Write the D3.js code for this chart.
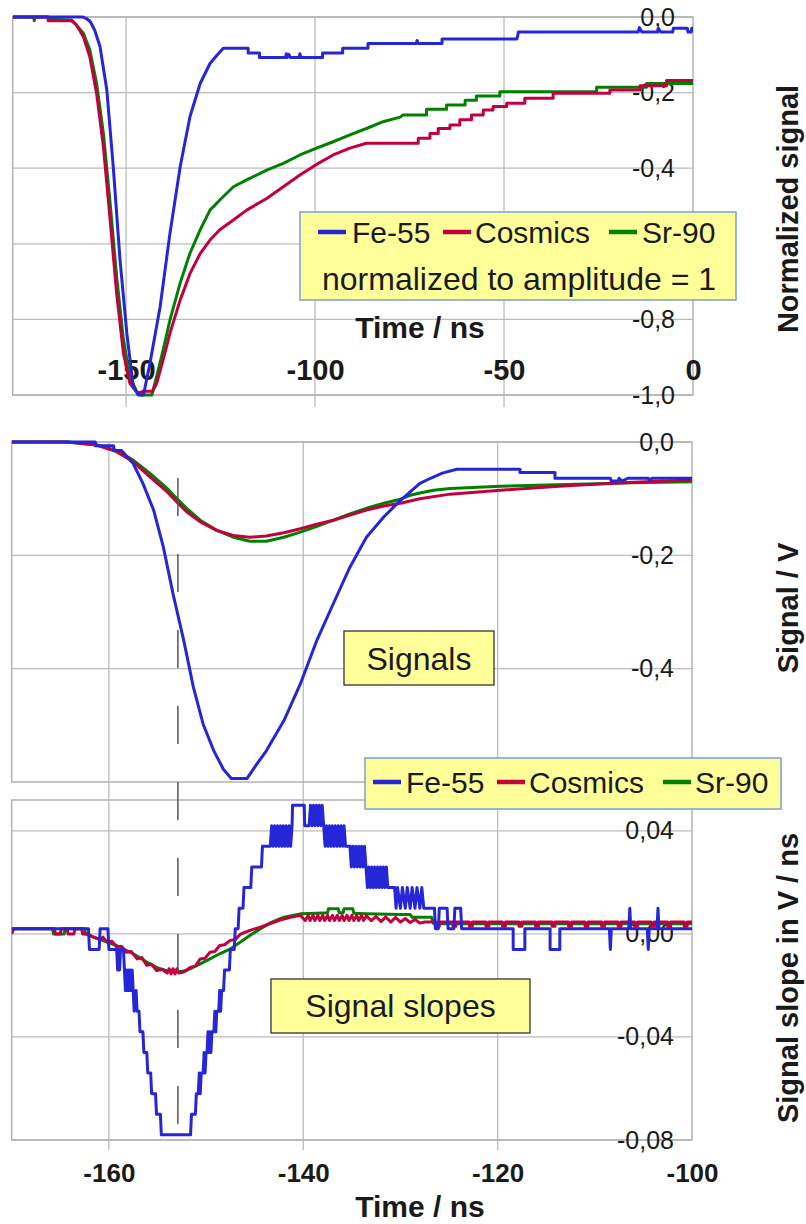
<!DOCTYPE html>
<html>
<head>
<meta charset="utf-8">
<script src="https://cdn.jsdelivr.net/npm/d3@7"></script>
<style>
  body { margin: 0; background: #fff; }
  text { font-family: "Liberation Sans", Arial, sans-serif; fill: #1a1a1a; }
</style>
</head>
<body>
<script>
// series names + colours
var seriesNames = ["Fe-55", "Cosmics", "Sr-90"];
var seriesColors = ["#2626d9", "#c2003f", "#008000"];

// ---- panel 1: normalized signal (time / ns, value) ----
var normFe = [[-180,0],[-161.4,0],[-160.5,-0.004],[-159.5,-0.012],[-158.3,-0.035],[-156.9,-0.078],[-155.1,-0.193],
  [-153.4,-0.396],[-151.6,-0.643],[-149.8,-0.837],[-148.1,-0.978],[-146.8,-1.0],[-145.4,-1.0],[-143.7,-0.917],
  [-141.0,-0.767],[-138.4,-0.573],[-135.7,-0.397],[-133.1,-0.264],[-130.4,-0.176],[-127.8,-0.123],[-125.6,-0.097],
  [-124.3,-0.083],[-117.7,-0.083],[-117.7,-0.095],[-114.7,-0.095],[-114.7,-0.107],[-107.8,-0.107],[-107.6,-0.097],
  [-107.4,-0.107],[-106.9,-0.099],[-106.6,-0.107],[-104.2,-0.107],[-104.0,-0.097],[-103.8,-0.107],[-98,-0.107],
  [-98,-0.095],[-92.7,-0.095],[-92.7,-0.083],[-86,-0.083],[-86,-0.07],[-73.2,-0.07],[-73,-0.062],[-72.8,-0.07],
  [-66.4,-0.07],[-66.4,-0.058],[-46.6,-0.058],[-46.4,-0.05],[-46.2,-0.04],[-14.5,-0.04],[-14.2,-0.028],[-13.5,-0.04],
  [-9.4,-0.04],[-9.2,-0.03],[-8.5,-0.04],[-5.4,-0.04],[-5.2,-0.03],[-1.5,-0.03],[-1.3,-0.04],[-0.5,-0.04],[-0.3,-0.03],[0,-0.03]];
var normCos = [[-180,0],[-170.6,0],[-170.6,-0.01],[-164.4,-0.01],[-163.1,-0.021],[-161.3,-0.052],[-159.6,-0.105],
  [-157.8,-0.202],[-156.0,-0.343],[-154.3,-0.528],[-152.5,-0.731],[-150.7,-0.890],[-149.0,-0.969],[-146.8,-0.996],
  [-145.4,-0.99],[-143,-0.99],[-141.9,-0.969],[-140.2,-0.907],[-138.4,-0.837],[-135.7,-0.749],[-133.1,-0.679],
  [-130.4,-0.626],[-127.8,-0.590],[-125.2,-0.563],[-121.6,-0.537],[-118.1,-0.511],[-112.8,-0.480],[-108.4,-0.449],
  [-104,-0.418],[-99.6,-0.390],[-95.2,-0.365],[-90.8,-0.347],[-86.4,-0.334],[-72.7,-0.334],[-72.7,-0.321],
  [-69.6,-0.321],[-69.6,-0.308],[-67.4,-0.308],[-67.4,-0.295],[-64.3,-0.295],[-64.3,-0.286],[-61.7,-0.286],
  [-61.7,-0.272],[-58.6,-0.272],[-58.6,-0.259],[-55.5,-0.259],[-55.5,-0.246],[-52.9,-0.246],[-52.9,-0.237],
  [-49.3,-0.237],[-49.3,-0.228],[-44.5,-0.228],[-44.5,-0.215],[-37,-0.215],[-37,-0.202],[-22,-0.202],[-22,-0.193],
  [-14,-0.193],[-14,-0.182],[-7,-0.182],[-7,-0.168],[0,-0.168]];
var normSr = [[-180,0],[-174.5,0],[-174.3,-0.01],[-174.1,0],[-170.6,0],[-170.6,-0.006],[-164.5,-0.008],[-164,-0.012],
  [-161.3,-0.043],[-159.6,-0.087],[-157.8,-0.176],[-156.0,-0.308],[-154.3,-0.484],[-152.5,-0.687],[-150.7,-0.854],
  [-149.0,-0.951],[-147.2,-0.991],[-146,-1.0],[-143.2,-1.0],[-141.9,-0.951],[-140.2,-0.881],[-138.4,-0.802],
  [-135.7,-0.704],[-133.1,-0.625],[-130.4,-0.563],[-127.8,-0.511],[-125.2,-0.484],[-121.6,-0.449],[-118.1,-0.431],
  [-112.8,-0.405],[-108.4,-0.387],[-104,-0.365],[-99.6,-0.347],[-95.2,-0.330],[-90.8,-0.312],[-86.4,-0.295],
  [-82,-0.277],[-77.5,-0.265],[-76.7,-0.259],[-70.5,-0.259],[-70.5,-0.244],[-65.2,-0.244],[-65.2,-0.233],
  [-60.3,-0.233],[-60.3,-0.220],[-57.3,-0.220],[-57.3,-0.209],[-51.1,-0.209],[-51.1,-0.198],[-25.5,-0.198],
  [-25.5,-0.186],[-12.3,-0.186],[-12.3,-0.176],[0,-0.176]];

// ---- panel 2: signal / V ----
var sigFe = [[-170,0],[-161.4,0],[-161.4,-0.0065],[-159.5,-0.0065],[-159.5,-0.015],[-158.7,-0.015],[-157.5,-0.038],
  [-156.5,-0.073],[-155.4,-0.120],[-154.4,-0.185],[-153.4,-0.268],[-152.3,-0.350],[-151.3,-0.433],[-150.3,-0.498],
  [-149.2,-0.545],[-148.2,-0.578],[-147.4,-0.594],[-145.8,-0.594],[-144.8,-0.569],[-143.8,-0.545],[-142.0,-0.492],
  [-140.3,-0.427],[-138.6,-0.350],[-136.9,-0.285],[-135.2,-0.221],[-133.5,-0.168],[-131.7,-0.132],[-130.0,-0.103],
  [-129.0,-0.088],[-128.0,-0.073],[-126.9,-0.064],[-125.7,-0.055],[-124.2,-0.048],[-117.7,-0.048],[-117.7,-0.054],
  [-114.1,-0.054],[-114.1,-0.064],[-108.4,-0.064],[-108.3,-0.069],[-107.6,-0.069],[-107.5,-0.064],[-107.2,-0.069],
  [-106.6,-0.064],[-104.5,-0.064],[-104.4,-0.068],[-104.1,-0.064],[-100,-0.064]];
var sigCos = [[-170,0],[-164.3,0],[-161.3,-0.0053],[-159.2,-0.017],[-157.5,-0.035],[-155.8,-0.061],[-154.0,-0.088],
  [-153.0,-0.106],[-152.0,-0.123],[-150.6,-0.141],[-148.9,-0.156],[-147.2,-0.165],[-145.5,-0.168],[-143.8,-0.166],
  [-142.0,-0.160],[-140.3,-0.153],[-138.6,-0.145],[-136.9,-0.138],[-135.2,-0.129],[-133.5,-0.120],[-131.7,-0.113],
  [-130,-0.108],[-128.0,-0.100],[-124.9,-0.092],[-119.7,-0.085],[-112.9,-0.077],[-106,-0.071],[-100,-0.067]];
var sigSr = [[-170,0],[-164.3,0],[-161.3,-0.0047],[-159.2,-0.015],[-157.5,-0.032],[-155.8,-0.055],[-154.0,-0.082],
  [-153.0,-0.100],[-152.0,-0.117],[-150.6,-0.138],[-148.9,-0.156],[-147.2,-0.168],[-145.5,-0.175],[-143.8,-0.175],
  [-142.0,-0.168],[-140.3,-0.159],[-138.6,-0.149],[-136.9,-0.138],[-135.2,-0.127],[-133.5,-0.117],[-131.7,-0.108],
  [-130,-0.101],[-129,-0.094],[-128,-0.090],[-126.6,-0.085],[-124.9,-0.082],[-119.7,-0.078],[-112.9,-0.075],
  [-106,-0.072],[-100,-0.070]];

// ---- panel 3: signal slope / V/ns ----
var slopeFe = [[-170,0.002],[-162.1,0.002],[-162.0,-0.006],[-161.0,-0.006],[-160.9,0.002],[-160.1,0.002],[-160.0,-0.006],
  [-159.2,-0.006],[-159.1,-0.014],[-159.0,-0.006],[-158.9,-0.014],[-158.8,-0.006],[-158.5,-0.006],[-158.4,-0.014],
  [-158.3,-0.022],[-158.2,-0.014],[-158.1,-0.022],[-158.0,-0.014],[-157.9,-0.022],[-157.8,-0.014],[-157.7,-0.022],
  [-157.6,-0.014],[-157.5,-0.022],[-157.4,-0.030],[-157.2,-0.022],[-157.1,-0.030],[-156.9,-0.030],[-156.8,-0.038],
  [-156.5,-0.038],[-156.4,-0.046],[-156.1,-0.046],[-156.0,-0.054],[-155.7,-0.054],[-155.6,-0.062],[-155.2,-0.062],
  [-155.1,-0.070],[-154.7,-0.070],[-154.6,-0.078],[-151.6,-0.078],[-151.5,-0.070],[-151.1,-0.070],[-151.0,-0.062],
  [-150.8,-0.062],[-150.7,-0.054],[-150.6,-0.062],[-150.5,-0.054],[-150.3,-0.054],[-150.2,-0.046],[-150.1,-0.054],
  [-150.0,-0.046],[-149.9,-0.046],[-149.8,-0.038],[-149.7,-0.046],[-149.6,-0.038],[-149.5,-0.046],[-149.4,-0.038],
  [-149.2,-0.038],[-149.1,-0.030],[-149.0,-0.038],[-148.9,-0.030],[-148.7,-0.030],[-148.6,-0.022],[-148.5,-0.030],
  [-148.4,-0.022],[-148.2,-0.022],[-148.1,-0.014],[-147.6,-0.014],[-147.5,-0.006],[-147.1,-0.006],[-147.0,0.002],
  [-146.7,0.002],[-146.6,0.010],[-146.2,0.010],[-146.1,0.018],[-145.4,0.018],[-145.3,0.026],[-144.3,0.026],
  [-144.2,0.034],[-143.4,0.034],[-143.25,0.042],[-143.1,0.034],[-142.95,0.042],[-142.8,0.034],[-142.65,0.042],
  [-142.5,0.034],[-142.35,0.042],[-142.2,0.034],[-142.05,0.042],[-141.9,0.034],[-141.75,0.042],[-141.6,0.034],
  [-141.45,0.042],[-141.3,0.034],[-141.15,0.042],[-141.1,0.050],[-139.9,0.050],[-139.85,0.042],[-139.4,0.042],
  [-139.25,0.050],[-139.1,0.042],[-138.95,0.050],[-138.8,0.042],[-138.65,0.050],[-138.5,0.042],[-138.35,0.050],
  [-138.2,0.042],[-138.05,0.050],[-137.9,0.042],[-137.75,0.034],[-137.6,0.042],[-137.45,0.034],[-137.3,0.042],
  [-137.15,0.034],[-137.0,0.042],[-136.85,0.034],[-136.7,0.042],[-136.55,0.034],[-136.4,0.042],[-136.25,0.034],
  [-136.1,0.042],[-135.95,0.034],[-135.8,0.042],[-135.65,0.034],[-135.2,0.034],[-135.05,0.026],[-134.9,0.034],
  [-134.75,0.026],[-134.6,0.034],[-134.45,0.026],[-134.3,0.034],[-134.15,0.026],[-134.0,0.034],[-133.85,0.026],
  [-133.7,0.034],[-133.55,0.026],[-133.4,0.018],[-133.25,0.026],[-133.1,0.018],[-132.95,0.026],[-132.8,0.018],
  [-132.65,0.026],[-132.5,0.018],[-132.35,0.026],[-132.2,0.018],[-132.05,0.026],[-131.9,0.018],[-131.75,0.026],
  [-131.6,0.018],[-131.45,0.026],[-131.3,0.018],[-130.6,0.018],[-130.45,0.010],[-130.3,0.018],[-130.0,0.010],
  [-129.8,0.018],[-129.5,0.010],[-129.3,0.018],[-129.0,0.010],[-128.8,0.018],[-128.5,0.010],[-128.3,0.018],
  [-128.0,0.010],[-127.8,0.018],[-127.6,0.010],[-126.5,0.010],[-126.4,0.002],[-126.1,0.002],[-126.0,0.010],
  [-125.2,0.010],[-125.1,0.002],[-124.5,0.002],[-124.4,0.010],[-123.8,0.010],[-123.7,0.002],[-118.4,0.002],
  [-118.4,-0.006],[-117.2,-0.006],[-117.2,0.002],[-114.6,0.002],[-114.6,-0.006],[-113.6,-0.006],[-113.6,0.002],
  [-108.5,0.002],[-108.4,-0.006],[-108.3,0.002],[-106.5,0.002],[-106.4,0.010],[-106.3,0.002],[-104.6,0.002],
  [-104.5,-0.006],[-104.4,0.002],[-103.6,0.002],[-103.5,0.010],[-103.4,0.002],[-100,0.002]];
var slopeCos = [[-170,0.0],[-169.8,0.002],[-165.6,0.002],[-165.5,0.0],[-165,0.0],[-164.9,0.002],[-164.3,0.002],
  [-164.2,0.0],[-163.6,0.0],[-163.5,0.002],[-162.8,0.002],[-162.7,0.0],[-162.2,0.0],[-161.6,-0.0012],[-160.9,-0.0022],
  [-160.6,-0.0012],[-160.2,-0.0032],[-159.7,-0.0028],[-159.2,-0.0051],[-158.7,-0.0048],[-158.2,-0.0071],
  [-157.7,-0.0068],[-157.1,-0.0097],[-156.6,-0.0092],[-156.1,-0.0122],[-155.6,-0.0118],[-155.1,-0.0142],
  [-154.5,-0.0138],[-154.0,-0.0152],
  [-153.8,-0.0135],[-153.6,-0.0155],[-153.4,-0.0135],[-153.2,-0.0155],[-153.0,-0.0135],[-152.8,-0.0152],
  [-152.3,-0.0148],[-151.6,-0.0129],[-151.1,-0.0125],[-150.6,-0.0097],[-150.1,-0.0094],[-149.6,-0.0071],
  [-149.1,-0.0068],[-148.6,-0.0045],[-148.1,-0.0042],[-147.5,-0.0025],[-147.0,-0.0022],[-146.5,-0.0002],
  [-145.5,0.0014],[-144.4,0.0026],[-143.4,0.0040],[-142.3,0.0055],[-141.3,0.0065],[-140.3,0.0072],
  [-139.8,0.0052],[-139.5,0.0072],[-139.3,0.0052],[-139.0,0.0072],[-138.8,0.0052],[-138.5,0.0072],[-138.3,0.0052],
  [-138.0,0.0072],[-137.8,0.0052],[-137.5,0.0072],[-137.3,0.0052],[-137.0,0.0072],[-136.8,0.0052],[-136.5,0.0072],
  [-136.3,0.0052],[-136.0,0.0072],[-135.8,0.0052],[-135.5,0.0072],[-135.3,0.0052],[-135.0,0.0072],[-134.8,0.0052],
  [-134.5,0.0072],[-134.3,0.0052],[-134.0,0.0072],[-133.8,0.0052],[-133.5,0.0070],[-133.0,0.0052],[-132.5,0.0068],
  [-132.0,0.0048],[-131.5,0.0066],[-131.0,0.0046],[-130.5,0.0064],[-130.0,0.0046],[-129.5,0.0060],[-129.0,0.0044],
  [-128.5,0.0056],[-128.0,0.0042],[-127.5,0.0046],[-126.3,0.0046],[-126.3,0.0030],[-126.0,0.0030],[-126.0,0.0046],
  [-124.6,0.0046],[-124.6,0.0030],[-124.3,0.0030],[-124.3,0.0046],[-122.9,0.0046],[-122.9,0.0030],[-122.6,0.0030],
  [-122.6,0.0046],[-121.2,0.0046],[-121.2,0.0030],[-120.9,0.0030],[-120.9,0.0046],[-119.5,0.0046],[-119.5,0.0030],
  [-119.2,0.0030],[-119.2,0.0046],[-117.8,0.0046],[-117.8,0.0030],[-117.5,0.0030],[-117.5,0.0046],[-116.1,0.0046],
  [-116.1,0.0030],[-115.8,0.0030],[-115.8,0.0046],[-114.4,0.0046],[-114.4,0.0030],[-114.1,0.0030],[-114.1,0.0046],
  [-112.7,0.0046],[-112.7,0.0030],[-112.4,0.0030],[-112.4,0.0046],[-111.0,0.0046],[-111.0,0.0030],[-110.7,0.0030],
  [-110.7,0.0046],[-109.3,0.0046],[-109.3,0.0030],[-109.0,0.0030],[-109.0,0.0046],[-107.6,0.0046],[-107.6,0.0030],
  [-107.3,0.0030],[-107.3,0.0046],[-105.9,0.0046],[-105.9,0.0030],[-105.6,0.0030],[-105.6,0.0046],[-104.2,0.0046],
  [-104.2,0.0030],[-103.9,0.0030],[-103.9,0.0046],[-102.5,0.0046],[-102.5,0.0030],[-102.2,0.0030],[-102.2,0.0046],
  [-100.8,0.0046],[-100.8,0.0030],[-100.5,0.0030],[-100.5,0.0046],[-100,0.0046]];
var slopeSr = [[-170,0.002],[-165.8,0.002],[-165.7,0.0],[-164.6,0.0],[-164.5,0.002],[-162.5,0.002],[-162.4,0.0],
  [-161.6,-0.0012],[-159.2,-0.0045],[-157.5,-0.0077],[-156.1,-0.0109],[-155.1,-0.013],[-154.0,-0.0144],
  [-153.0,-0.0148],[-152.0,-0.0142],[-150.6,-0.0116],[-149.6,-0.0097],[-148.6,-0.0077],[-147.5,-0.0058],
  [-146.5,-0.0032],[-145.5,-0.0006],[-144.4,0.002],[-143.4,0.0043],[-142.0,0.0065],[-140.3,0.0078],[-138.6,0.008],
  [-137.5,0.0082],[-137.4,0.0098],[-136.4,0.0098],[-136.3,0.0082],[-135.9,0.0082],[-135.8,0.0098],[-134.9,0.0098],
  [-134.8,0.008],[-133.5,0.0078],[-130,0.0075],[-129,0.0075],[-128.8,0.0065],[-126.8,0.0065],[-126.6,0.0040],
  [-100,0.0040]];

// tick values / labels
var normYTicks = [0, -0.2, -0.4, -0.6, -0.8, -1.0];
var normYLabels = [0, -0.2, -0.4, -0.8, -1.0];
var normXTicks = [-150, -100, -50, 0];
var normXGrid = [-150, -100, -50];
var sigYTicks = [0, -0.2, -0.4];
var slopeYTicks = [0.04, 0, -0.04, -0.08];
var timeXTicks = [-160, -140, -120, -100];
var timeXGrid = [-160, -140, -120];
var markerTime = -152.9;

var W = 806, H = 1224;
var svg = d3.select("body").append("svg").attr("width", W).attr("height", H);

var loc = d3.formatLocale({decimal: ",", thousands: ".", grouping: [3], currency: ["", ""], minus: "-"});

var gridColor = "#bcbcbc";

function drawPanel(p) {
  var x = d3.scaleLinear().domain(p.xDomain).range([p.left, p.right]);
  var y = d3.scaleLinear().domain(p.yDomain).range([p.bottom, p.top]);
  var g = svg.append("g");

  // gridlines
  g.selectAll("line.gx").data(p.gridX).enter().append("line")
    .attr("x1", function(d) { return x(d); }).attr("x2", function(d) { return x(d); })
    .attr("y1", p.top).attr("y2", p.gridBottom)
    .attr("stroke", gridColor).attr("stroke-width", 1.3);
  g.selectAll("line.gy").data(p.yTicks).enter().append("line")
    .attr("x1", p.left).attr("x2", p.right)
    .attr("y1", function(d) { return y(d); }).attr("y2", function(d) { return y(d); })
    .attr("stroke", gridColor).attr("stroke-width", 1.3);
  g.append("rect").attr("x", p.left).attr("y", p.top)
    .attr("width", p.right - p.left).attr("height", p.bottom - p.top)
    .attr("fill", "none").attr("stroke", "#b3b3b3").attr("stroke-width", 1.5);

  // y labels on the right edge
  var ya = g.append("g").attr("transform", "translate(" + p.right + ",0)")
    .call(d3.axisLeft(y).tickValues(p.yLabels).tickFormat(loc.format(p.yFmt)).tickSize(0).tickPadding(18));
  ya.select(".domain").remove();
  ya.attr("font-family", null);
  ya.selectAll("text").attr("font-size", 25).attr("fill", "#1a1a1a");

  // x labels
  if (p.xLabels) {
    var xa = g.append("g").attr("transform", "translate(0," + p.xLabelY + ")")
      .call(d3.axisBottom(x).tickValues(p.xLabels).tickFormat(loc.format("d")).tickSize(0));
    xa.select(".domain").remove();
    xa.attr("font-family", null);
    xa.selectAll("text").attr("y", 0).attr("dy", 0)
      .attr("font-size", p.xLabelSize).attr("font-weight", "bold").attr("fill", "#1a1a1a");
  }

  // series lines
  var cid = "clip" + p.id;
  svg.append("clipPath").attr("id", cid).append("rect")
    .attr("x", p.left).attr("y", p.top - 3).attr("width", p.right - p.left).attr("height", p.bottom - p.top + 6);
  var line = d3.line().x(function(d) { return x(d[0]); }).y(function(d) { return y(d[1]); });
  var lg = g.append("g").attr("clip-path", "url(#" + cid + ")");
  [2, 1, 0].forEach(function(i) {
    lg.append("path").datum(p.series[i])
      .attr("d", line).attr("fill", "none")
      .attr("stroke", seriesColors[i]).attr("stroke-width", 3)
      .attr("stroke-linejoin", "round");
  });

  // axis title
  svg.append("text")
    .attr("transform", "translate(798," + p.titleY + ") rotate(-90)")
    .attr("text-anchor", "middle").attr("font-size", 29).attr("font-weight", "bold")
    .text(p.title);
  return {x: x, y: y};
}

var top = drawPanel({
  id: 1, xDomain: [-180, 0], yDomain: [-1, 0], left: 12.7, right: 693, top: 17, bottom: 395,
  gridX: normXGrid, gridBottom: 407, yTicks: normYTicks, yLabels: normYLabels, yFmt: ".1f",
  xLabels: normXTicks, xLabelY: 380, xLabelSize: 29, series: [normFe, normCos, normSr],
  title: "Normalized signal", titleY: 209
});
var mid = drawPanel({
  id: 2, xDomain: [-170, -100], yDomain: [-0.6, 0], left: 11.7, right: 692, top: 442, bottom: 782,
  gridX: timeXGrid, gridBottom: 800, yTicks: sigYTicks, yLabels: sigYTicks, yFmt: ".1f",
  xLabels: null, series: [sigFe, sigCos, sigSr],
  title: "Signal / V", titleY: 608
});
var bot = drawPanel({
  id: 3, xDomain: [-170, -100], yDomain: [-0.08, 0.052], left: 11.7, right: 692, top: 800, bottom: 1140,
  gridX: timeXGrid, gridBottom: 1150, yTicks: slopeYTicks, yLabels: slopeYTicks, yFmt: ".2f",
  xLabels: timeXTicks, xLabelY: 1182, xLabelSize: 26, series: [slopeFe, slopeCos, slopeSr],
  title: "Signal slope in V / ns", titleY: 978
});

// x axis titles
svg.append("text").attr("x", 420).attr("y", 338).attr("text-anchor", "middle")
  .attr("font-size", 30).attr("font-weight", "bold").text("Time / ns");
svg.append("text").attr("x", 420).attr("y", 1217).attr("text-anchor", "middle")
  .attr("font-size", 30).attr("font-weight", "bold").text("Time / ns");

// dashed marker line through panels 2 and 3
svg.append("line")
  .attr("x1", bot.x(markerTime)).attr("x2", bot.x(markerTime))
  .attr("y1", 478).attr("y2", 1140)
  .attr("stroke", "#555").attr("stroke-width", 1.5).attr("stroke-dasharray", "38,38");

// legends
function legend(box, items, rowY) {
  var g = svg.append("g");
  g.append("rect").attr("x", box[0]).attr("y", box[1]).attr("width", box[2]).attr("height", box[3])
    .attr("fill", "#ffff99").attr("stroke", "#7a9fd0").attr("stroke-width", 1.5);
  items.forEach(function(it, i) {
    g.append("line").attr("x1", it[0]).attr("x2", it[0] + 28).attr("y1", rowY).attr("y2", rowY)
      .attr("stroke", seriesColors[i]).attr("stroke-width", 4.5);
    g.append("text").attr("x", it[1]).attr("y", rowY + 10.5).attr("font-size", 30).text(seriesNames[i]);
  });
  return g;
}
var lg1 = legend([300, 212, 436, 88], [[318, 352], [443, 475], [609, 642]], 232);
lg1.append("text").attr("x", 322).attr("y", 290).attr("font-size", 32).text("normalized to amplitude = 1");
legend([365, 758, 416, 51], [[373, 406], [497, 529], [663, 695]], 782);

// caption boxes
function caption(x0, y0, w, h, label, baseY) {
  svg.append("rect").attr("x", x0).attr("y", y0).attr("width", w).attr("height", h)
    .attr("fill", "#ffff99").attr("stroke", "#333").attr("stroke-width", 1.3);
  svg.append("text").attr("x", x0 + w / 2).attr("y", baseY).attr("text-anchor", "middle")
    .attr("font-size", 32).text(label);
}
caption(344, 631, 150, 54, "Signals", 670);
caption(271, 979, 259, 54, "Signal slopes", 1017);
</script>
</body>
</html>
